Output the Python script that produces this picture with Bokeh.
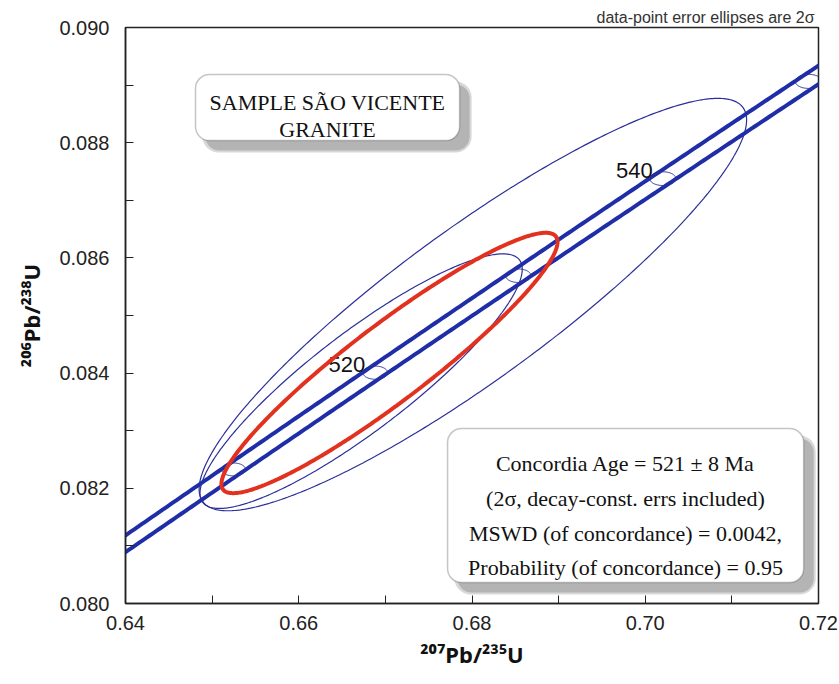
import numpy as np
from bokeh.plotting import figure
from bokeh.models import (Range1d, FixedTicker, NumeralTickFormatter, Label,
                          BoxAnnotation, ColumnDataSource)
from bokeh.core.properties import value
from bokeh.embed import file_html
from bokeh.resources import INLINE

# Decay constants (per year) and their 1-sigma uncertainties
LAMBDA_238 = 1.55125e-10
LAMBDA_235 = 9.8485e-10
SIGMA_L238 = 0.00083e-10
SIGMA_L235 = 0.0067e-10

# Concordia age marks (Ma); only some carry a number
tick_ages = [510, 520, 530, 540, 550]
labelled_ages = [520, 540]

# Zircon analyses: ratios, 2-sigma errors and error correlation
pb207_u235 = [0.6801, 0.6672]
pb207_u235_err = [0.0316, 0.0186]
pb206_u238 = [0.08519, 0.08386]
pb206_u238_err = [0.00358, 0.00221]
err_rho = [0.895, 0.88]

# Concordia age result
concordia_age_ma = 521
concordia_age_err_ma = 8
age_x_err = 0.0194
age_y_err = 0.00226
age_rho = 0.93
mswd = 0.0042
probability = 0.95

# Axis ticks
x_major = [0.64, 0.66, 0.68, 0.70, 0.72]
x_minor = [0.65, 0.67, 0.69, 0.71]
y_major = [0.080, 0.082, 0.084, 0.086, 0.088, 0.090]
y_minor = [0.081, 0.083, 0.085, 0.087, 0.089]

BAND_BLUE = "#1f2ea8"
THIN_BLUE = "#2b2f9a"
RED = "#e2321f"
SERIF = "Liberation Serif"
SANS = "Liberation Sans"


def concordia(age_ma):
    t = np.asarray(age_ma, dtype=float) * 1e6
    return np.expm1(LAMBDA_235 * t), np.expm1(LAMBDA_238 * t)


def concordia_sigma(age_ma, k=2.0):
    t = np.asarray(age_ma, dtype=float) * 1e6
    sx = k * t * np.exp(LAMBDA_235 * t) * SIGMA_L235
    sy = k * t * np.exp(LAMBDA_238 * t) * SIGMA_L238
    return sx, sy


def ellipse(x0, sx, y0, sy, r, n=400):
    a = np.linspace(0, 2 * np.pi, n)
    xs = x0 + sx * np.cos(a)
    ys = y0 + sy * (r * np.cos(a) + np.sqrt(1 - r * r) * np.sin(a))
    return xs, ys


p = figure(width=839, height=684, output_backend="svg", toolbar_location=None,
           x_range=Range1d(0.64, 0.72), y_range=Range1d(0.080, 0.090),
           min_border_left=125, min_border_right=21, min_border_top=27,
           min_border_bottom=81)
p.xgrid.visible = False
p.ygrid.visible = False
p.outline_line_color = "#222222"
p.outline_line_width = 1.5
p.background_fill_color = "white"
p.border_fill_color = "white"

# Caption above the frame
p.title.text = "data-point error ellipses are 2σ"
p.title.align = "right"
p.title.text_font = SANS
p.title.text_font_size = "16px"
p.title.text_font_style = "normal"
p.title.text_color = "#333333"
p.title.standoff = 3
p.title.offset = 4

for ax, major, minor, fmt, standoff in (
        (p.xaxis[0], x_major, x_minor, "0.00", 12),
        (p.yaxis[0], y_major, y_minor, "0.000", 16)):
    ax.ticker = FixedTicker(ticks=major, minor_ticks=minor)
    ax.formatter = NumeralTickFormatter(format=fmt)
    ax.axis_line_color = "#222222"
    ax.axis_line_width = 1.5
    ax.major_tick_in = 8
    ax.major_tick_out = 0
    ax.minor_tick_in = 8
    ax.minor_tick_out = 0
    ax.major_tick_line_color = "#222222"
    ax.minor_tick_line_color = "#222222"
    ax.major_label_text_font = SANS
    ax.major_label_text_font_size = "20px"
    ax.major_label_text_color = "#222222"
    ax.major_label_standoff = standoff
    ax.axis_label_text_font = "Noto Sans"
    ax.axis_label_text_font_size = "22px"
    ax.axis_label_text_font_style = "bold"
    ax.axis_label_text_color = "#111111"

p.xaxis[0].axis_label = "²⁰⁷Pb/²³⁵U"
p.xaxis[0].axis_label_standoff = 6
p.yaxis[0].axis_label = "²⁰⁶Pb/²³⁸U"
p.yaxis[0].axis_label_standoff = 10

# Analysis error ellipses
for x0, sx, y0, sy, r in zip(pb207_u235, pb207_u235_err, pb206_u238,
                             pb206_u238_err, err_rho):
    ex, ey = ellipse(x0, sx, y0, sy, r)
    p.line(ex, ey, line_color=THIN_BLUE, line_width=1.2)

# Concordia band from decay-constant uncertainties
ages = np.linspace(480, 580, 401)
cx, cy = concordia(ages)
sx, sy = concordia_sigma(ages)
t = ages * 1e6
nx = -LAMBDA_238 * np.exp(LAMBDA_238 * t)
ny = LAMBDA_235 * np.exp(LAMBDA_235 * t)
norm = np.sqrt(nx ** 2 * sx ** 2 + ny ** 2 * sy ** 2)
offx = sx ** 2 * nx / norm
offy = sy ** 2 * ny / norm
p.line(cx + offx, cy + offy, line_color=BAND_BLUE, line_width=4)
p.line(cx - offx, cy - offy, line_color=BAND_BLUE, line_width=4)

# Age marks on the concordia (95% confidence ellipses)
tx, ty = concordia(tick_ages)
tsx, tsy = concordia_sigma(tick_ages, k=2.45)
for x0, sx0, y0, sy0 in zip(tx, tsx, ty, tsy):
    ex, ey = ellipse(x0, sx0, y0, sy0, 0.0, n=120)
    p.line(ex, ey, line_color=THIN_BLUE, line_width=1)

lx, ly = concordia(labelled_ages)
p.text(x="x", y="y", text="label",
       source=ColumnDataSource(dict(x=lx, y=ly,
                                    label=[str(a) for a in labelled_ages])),
       x_offset=-10, y_offset=-8, text_align="right",
       text_baseline="alphabetic", text_font=value(SANS),
       text_font_size="22px", text_color="#111111")

# Concordia age ellipse
ax0, ay0 = concordia(concordia_age_ma)
ex, ey = ellipse(float(ax0), age_x_err, float(ay0), age_y_err, age_rho)
p.line(ex, ey, line_color=RED, line_width=4)


def shadowed_box(left, right, top, bottom):
    dx = 10 / 8662
    dy = 10 / 57600
    p.add_layout(BoxAnnotation(left=left + dx * 0.7, right=right + dx * 1.2,
                               top=top - dy * 0.7, bottom=bottom - dy * 1.2,
                               fill_color="#d8d8d8", fill_alpha=1,
                               line_alpha=0, border_radius=16))
    p.add_layout(BoxAnnotation(left=left + dx, right=right + dx,
                               top=top - dy, bottom=bottom - dy,
                               fill_color="#b4b4b4", fill_alpha=1,
                               line_alpha=0, border_radius=14))
    p.add_layout(BoxAnnotation(left=left, right=right, top=top, bottom=bottom,
                               fill_color="white", fill_alpha=1,
                               line_color="#404040", line_width=1.5,
                               border_radius=14))


def add_text(x, y, text, size):
    p.add_layout(Label(x=x, y=y, text=text, text_font=SERIF,
                       text_font_size=size, text_align="center",
                       text_baseline="alphabetic", text_color="#111111"))


# Sample name box
shadowed_box(0.64808, 0.67857, 0.089184, 0.088038)
add_text(0.66332, 0.088698, "SAMPLE SÃO VICENTE", "22px")
add_text(0.66332, 0.088229, "GRANITE", "22px")

# Result box
shadowed_box(0.67718, 0.71829, 0.083038, 0.080365)
result_lines = [
    f"Concordia Age = {concordia_age_ma} ± {concordia_age_err_ma} Ma",
    "(2σ, decay-const. errs included)",
    f"MSWD (of concordance) = {mswd},",
    f"Probability (of concordance) = {probability}",
]
for line, yy in zip(result_lines, [0.082431, 0.081823, 0.081215, 0.080625]):
    add_text(0.69772, yy, line, "22px")

open("out.html", "w").write(file_html(p, INLINE))
